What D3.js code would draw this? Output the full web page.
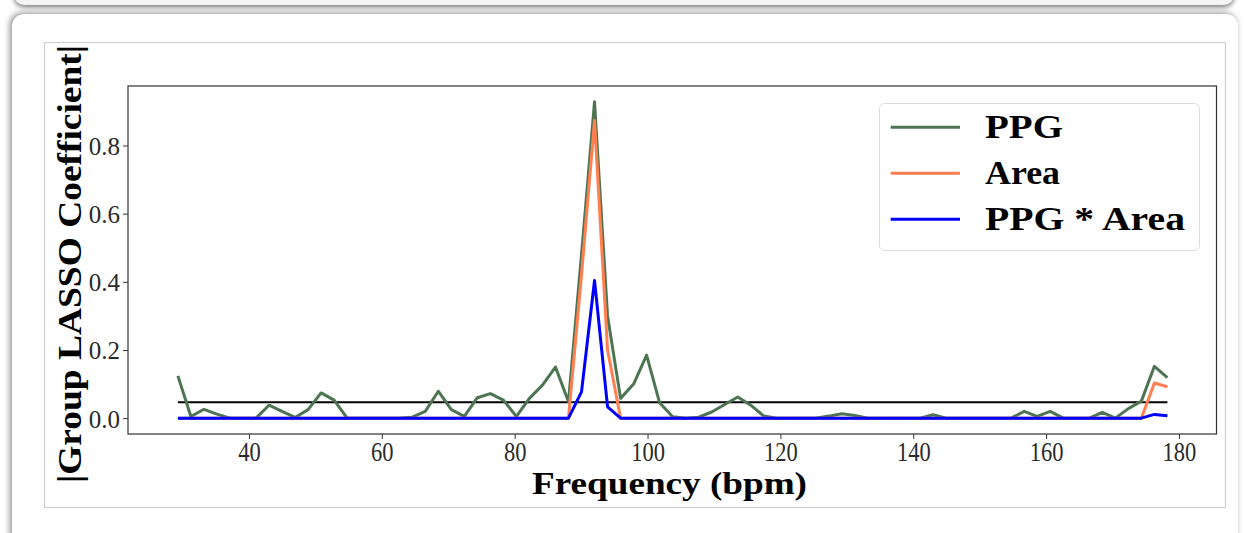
<!DOCTYPE html>
<html>
<head>
<meta charset="utf-8">
<script src="https://cdn.jsdelivr.net/npm/d3@7"></script>
<style>
  html, body { margin: 0; padding: 0; background: #ffffff; width: 1244px; height: 533px; overflow: hidden; position: relative; }
  #cardA { position: absolute; left: 14px; width: 1220px; top: -40px; height: 45px; border-radius: 10px; background: #f4f4f4; box-shadow: 0 2px 5px rgba(0,0,0,0.55); }
  #cardB { position: absolute; left: 12px; width: 1226px; top: 14px; height: 600px; border-radius: 12px; background: #fff; box-shadow: -2px -1px 6px rgba(0,0,0,0.45); }
  svg { position: absolute; left: 0; top: 0; }
  text { font-family: "Liberation Serif", "DejaVu Serif", serif; }
</style>
</head>
<body>
<div id="cardA"></div>
<div id="cardB"></div>
<svg id="chart" width="1244" height="533"></svg>
<script>
// ---- data ----
const frequency = [
  29.30, 31.26, 33.22, 35.18, 37.14, 39.10, 41.06, 43.02, 44.98, 46.94,
  48.90, 50.86, 52.82, 54.78, 56.74, 58.70, 60.66, 62.62, 64.58, 66.54,
  68.50, 70.46, 72.42, 74.38, 76.34, 78.30, 80.26, 82.22, 84.18, 86.14,
  88.10, 90.06, 92.02, 93.98, 95.94, 97.90, 99.86, 101.82, 103.78, 105.74,
  107.70, 109.66, 111.62, 113.58, 115.54, 117.50, 119.46, 121.42, 123.38, 125.34,
  127.30, 129.26, 131.22, 133.18, 135.14, 137.10, 139.06, 141.02, 142.98, 144.94,
  146.90, 148.86, 150.82, 152.78, 154.74, 156.70, 158.66, 160.62, 162.58, 164.54,
  166.50, 168.46, 170.42, 172.38, 174.34, 176.30, 178.26
];
const ppg = [
  0.124, 0.005, 0.026, 0.012, 0.000, 0.000, 0.000, 0.038, 0.020, 0.002,
  0.025, 0.074, 0.053, 0.000, 0.000, 0.000, 0.000, 0.000, 0.003, 0.020,
  0.079, 0.025, 0.005, 0.060, 0.072, 0.053, 0.005, 0.058, 0.097, 0.150,
  0.048, 0.480, 0.928, 0.300, 0.058, 0.100, 0.185, 0.045, 0.004, 0.000,
  0.003, 0.018, 0.040, 0.062, 0.038, 0.006, 0.000, 0.000, 0.000, 0.000,
  0.006, 0.013, 0.008, 0.000, 0.000, 0.000, 0.000, 0.000, 0.010, 0.000,
  0.000, 0.000, 0.000, 0.000, 0.000, 0.020, 0.005, 0.020, 0.000, 0.000,
  0.000, 0.017, 0.000, 0.028, 0.050, 0.152, 0.119
];
const area = [
  0, 0, 0, 0, 0, 0, 0, 0, 0, 0,
  0, 0, 0, 0, 0, 0, 0, 0, 0, 0,
  0, 0, 0, 0, 0, 0, 0, 0, 0, 0,
  0, 0.420, 0.873, 0.200, 0, 0, 0, 0, 0, 0,
  0, 0, 0, 0, 0, 0, 0, 0, 0, 0,
  0, 0, 0, 0, 0, 0, 0, 0, 0, 0,
  0, 0, 0, 0, 0, 0, 0, 0, 0, 0,
  0, 0, 0, 0, 0, 0.103, 0.092
];
const ppgArea = [
  0, 0, 0, 0, 0, 0, 0, 0, 0, 0,
  0, 0, 0, 0, 0, 0, 0, 0, 0, 0,
  0, 0, 0, 0, 0, 0, 0, 0, 0, 0,
  0, 0.077, 0.404, 0.033, 0, 0, 0, 0, 0, 0,
  0, 0, 0, 0, 0, 0, 0, 0, 0, 0,
  0, 0, 0, 0, 0, 0, 0, 0, 0, 0,
  0, 0, 0, 0, 0, 0, 0, 0, 0, 0,
  0, 0, 0, 0, 0, 0.011, 0.007
];
const threshold = 0.047;
const seriesNames = ["PPG", "Area", "PPG * Area"];
const seriesColors = ["#4e7552", "#ff7f50", "#0000ff"];
const xTicks = [40, 60, 80, 100, 120, 140, 160, 180];
const yTicks = [0.0, 0.2, 0.4, 0.6, 0.8];
const xTitle = "Frequency (bpm)";
const yTitle = "|Group LASSO Coefficient|";

// ---- layout ----
const svg = d3.select("#chart");
const plot = { left: 128, top: 86, right: 1216.5, bottom: 434 };

// outer white panel
svg.append("rect").attr("x", 44.5).attr("y", 42.5).attr("width", 1181).attr("height", 465)
  .attr("fill", "#fff").attr("stroke", "#cfcfcf").attr("stroke-width", 1.2);

const x = d3.scaleLinear().domain([21.79, 185.65]).range([plot.left, plot.right]);
const y = d3.scaleLinear().domain([-0.0465, 0.9745]).range([plot.bottom, plot.top]);

// axes
const xAxis = svg.append("g").attr("transform", `translate(0,${plot.bottom})`)
  .call(d3.axisBottom(x).tickValues(xTicks).tickFormat(d3.format("d")).tickSize(5).tickPadding(3));
const yAxis = svg.append("g").attr("transform", `translate(${plot.left},0)`)
  .call(d3.axisLeft(y).tickValues(yTicks).tickFormat(d3.format(".1f")).tickSize(5).tickPadding(3));
[xAxis, yAxis].forEach(g => {
  g.select(".domain").remove();
  g.selectAll(".tick line").attr("stroke", "#333").attr("stroke-width", 1);
  g.selectAll(".tick text").attr("fill", "#2a2a2a").style("font-size", "25px")
    .style("font-family", "'Liberation Serif', serif");
});
xAxis.selectAll(".tick text").attr("transform", "scale(0.9,1.05)");
yAxis.selectAll(".tick text").attr("dy", "0.36em");

// frame
svg.append("rect").attr("x", plot.left).attr("y", plot.top)
  .attr("width", plot.right - plot.left).attr("height", plot.bottom - plot.top)
  .attr("fill", "none").attr("stroke", "#333").attr("stroke-width", 1.2);

// threshold line
svg.append("line")
  .attr("x1", x(frequency[0])).attr("x2", x(frequency[frequency.length - 1]))
  .attr("y1", y(threshold)).attr("y2", y(threshold))
  .attr("stroke", "#000").attr("stroke-width", 2);

// series lines
const allSeries = [ppg, area, ppgArea];
const line = d3.line().x((d, i) => x(frequency[i])).y(d => y(d));
allSeries.forEach((vals, k) => {
  svg.append("path").datum(vals).attr("d", line)
    .attr("fill", "none").attr("stroke", seriesColors[k]).attr("stroke-width", 3)
    .attr("stroke-linejoin", "round");
});

// legend
const lg = svg.append("g");
lg.append("rect").attr("x", 879.5).attr("y", 103.5).attr("width", 320).attr("height", 147).attr("rx", 5)
  .attr("fill", "#fff").attr("fill-opacity", 0.85).attr("stroke", "#dcdcdc").attr("stroke-width", 1);
const legendWidths = [78, 75, 200];
seriesNames.forEach((name, k) => {
  const yy = 127.3 + k * 46;
  lg.append("line").attr("x1", 890.7).attr("x2", 960).attr("y1", yy).attr("y2", yy)
    .attr("stroke", seriesColors[k]).attr("stroke-width", 3);
  lg.append("text").attr("x", 985).attr("y", yy + 11).text(name)
    .attr("font-weight", "bold").style("font-size", "33px").attr("fill", "#000")
    .attr("textLength", legendWidths[k]).attr("lengthAdjust", "spacingAndGlyphs");
});

// axis titles
svg.append("text").attr("x", 532).attr("y", 494).text(xTitle)
  .attr("font-weight", "bold").style("font-size", "32px").attr("fill", "#000")
  .attr("textLength", 275).attr("lengthAdjust", "spacingAndGlyphs");
svg.append("text").attr("transform", "translate(81,483) rotate(-90)").text(yTitle)
  .attr("font-weight", "bold").style("font-size", "34px").attr("fill", "#000")
  .attr("textLength", 438).attr("lengthAdjust", "spacingAndGlyphs");
</script>
</body>
</html>
